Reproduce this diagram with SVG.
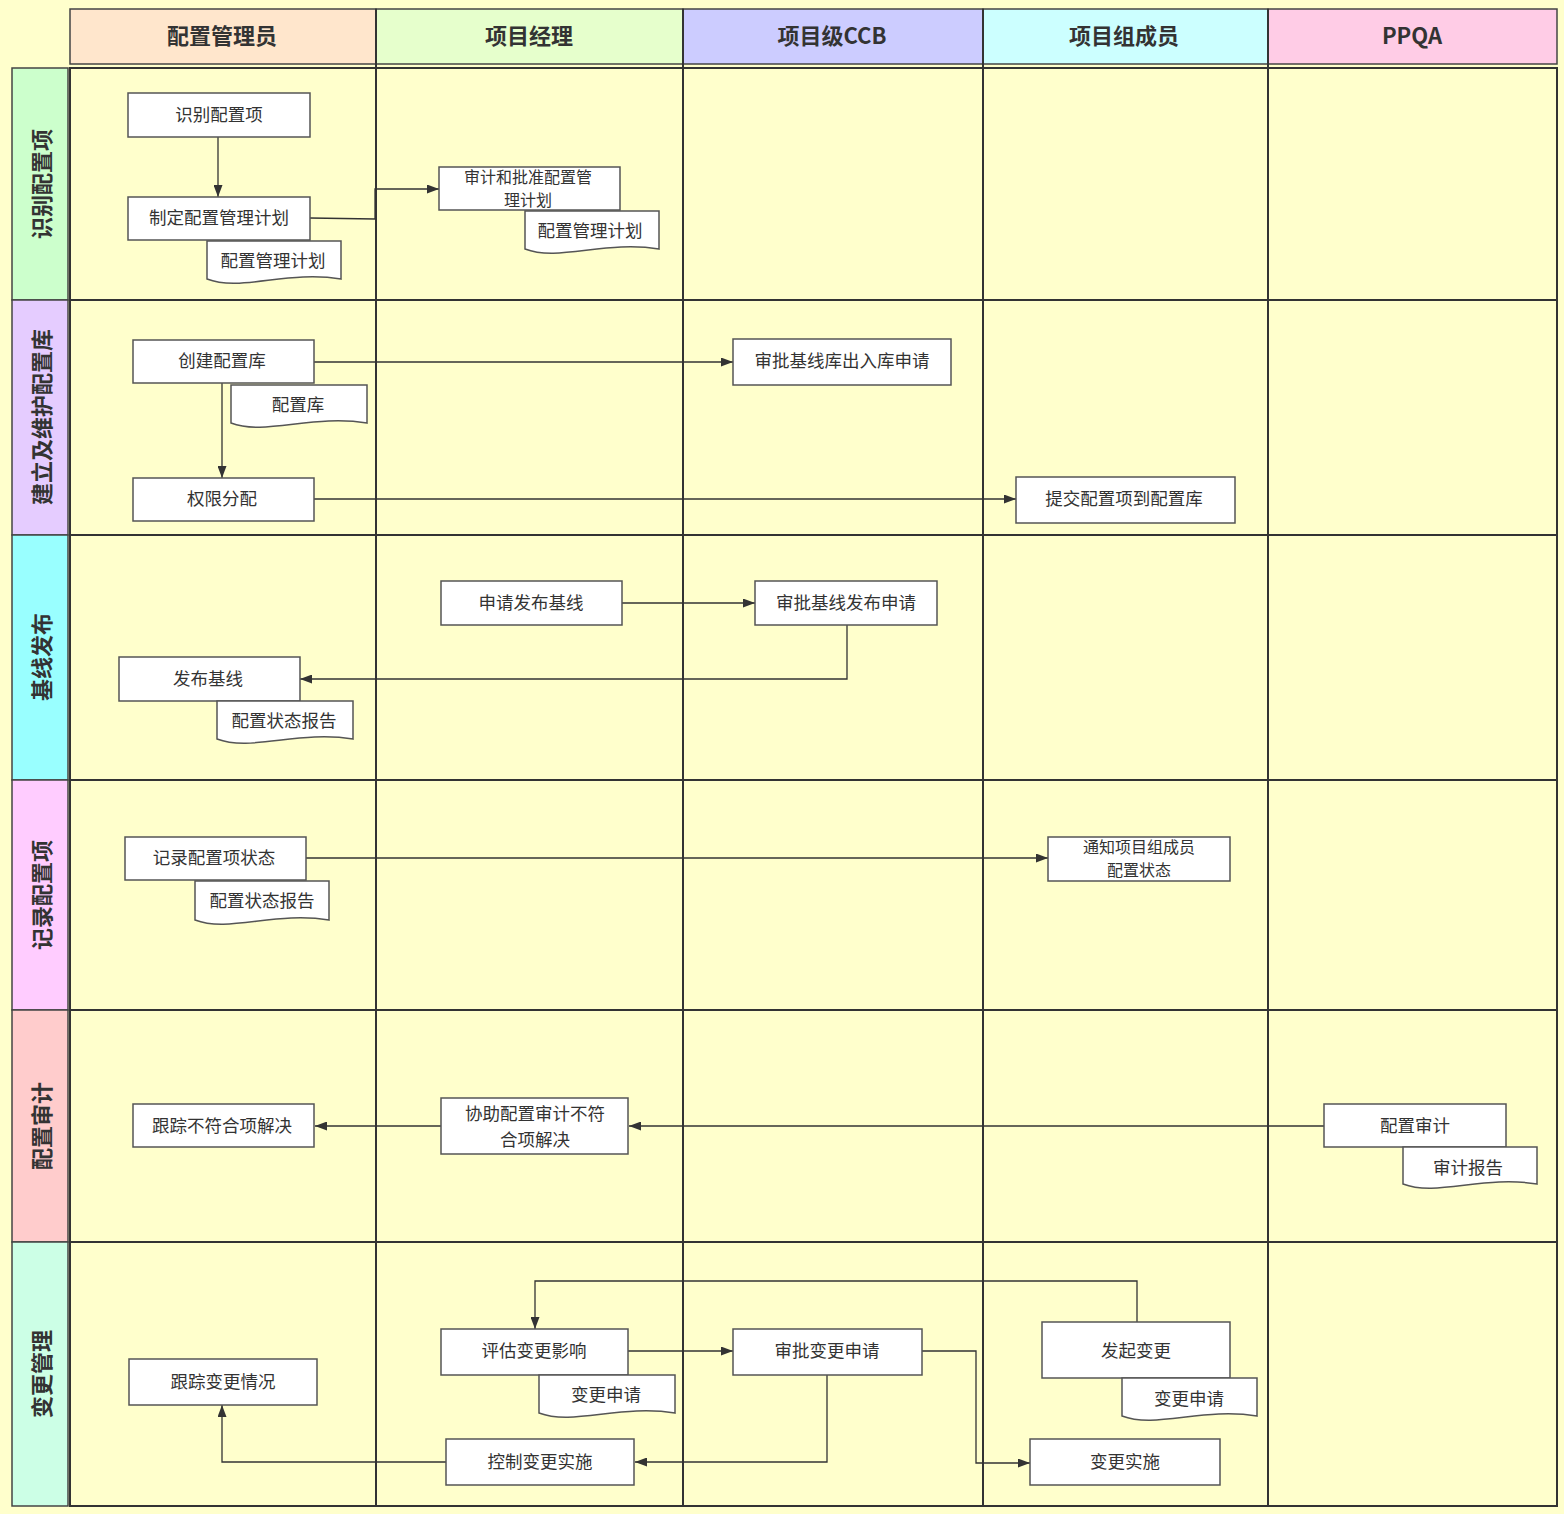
<svg xmlns="http://www.w3.org/2000/svg" width="1564" height="1514" viewBox="0 0 1564 1514">
<defs>
<style>
.bg{fill:#ffffcc}
.grid{fill:none;stroke:#333;stroke-width:2}
.hdr{stroke:#444;stroke-width:1.5}
.ht{font-family:"Noto Sans CJK SC","Noto Sans",sans-serif;font-size:22px;font-weight:bold;fill:#333;text-anchor:middle;dominant-baseline:central}
.lt{font-family:"Noto Sans CJK SC","Noto Sans",sans-serif;font-size:22px;font-weight:bold;fill:#333;text-anchor:middle;dominant-baseline:central}
.box{fill:#fff;stroke:#555;stroke-width:1.5}
.t{font-family:"Noto Sans CJK SC","Noto Sans",sans-serif;font-size:17.5px;fill:#333;text-anchor:middle;dominant-baseline:central}
.t2{font-size:16px}
.c{fill:none;stroke:#333;stroke-width:1.3}
</style>
<marker id="ah" markerUnits="userSpaceOnUse" markerWidth="12" markerHeight="9" refX="12" refY="4.5" orient="auto">
<path d="M0,0 L12,4.5 L0,9 z" fill="#333"/>
</marker>
</defs>
<rect class="bg" x="0" y="0" width="1564" height="1514"/>

<g id="headers">
<rect class="hdr" x="70" y="9" width="306" height="55" fill="#ffe6cc"/>
<rect class="hdr" x="376" y="9" width="307" height="55" fill="#e6ffcc"/>
<rect class="hdr" x="683" y="9" width="300" height="55" fill="#ccccff"/>
<rect class="hdr" x="983" y="9" width="285" height="55" fill="#ccffff"/>
<rect class="hdr" x="1268" y="9" width="289" height="55" fill="#ffcce6"/>
<text class="ht" x="222" y="34">配置管理员</text>
<text class="ht" x="529" y="34">项目经理</text>
<text class="ht" x="832" y="34">项目级CCB</text>
<text class="ht" x="1124" y="34">项目组成员</text>
<text class="ht" x="1412" y="34">PPQA</text>
</g>

<g id="lanes">
<rect class="hdr" x="12" y="68" width="56" height="232" fill="#ccffcc"/>
<rect class="hdr" x="12" y="300" width="56" height="235" fill="#e5ccff"/>
<rect class="hdr" x="12" y="535" width="56" height="245" fill="#99ffff"/>
<rect class="hdr" x="12" y="780" width="56" height="230" fill="#ffccff"/>
<rect class="hdr" x="12" y="1010" width="56" height="232" fill="#ffcccc"/>
<rect class="hdr" x="12" y="1242" width="56" height="264" fill="#ccffe6"/>
<text class="lt" transform="translate(40,184) rotate(-90)">识别配置项</text>
<text class="lt" transform="translate(40,417) rotate(-90)">建立及维护配置库</text>
<text class="lt" transform="translate(40,657) rotate(-90)">基线发布</text>
<text class="lt" transform="translate(40,895) rotate(-90)">记录配置项</text>
<text class="lt" transform="translate(40,1126) rotate(-90)">配置审计</text>
<text class="lt" transform="translate(40,1374) rotate(-90)">变更管理</text>
</g>

<g id="grid">
<rect class="grid" x="70" y="68" width="1487" height="1438"/>
<path class="grid" d="M376,9 V1506 M683,9 V1506 M983,9 V1506 M1268,9 V1506 M70,300 H1557 M70,535 H1557 M70,780 H1557 M70,1010 H1557 M70,1242 H1557"/>
</g>

<g id="connectors">
<path class="c" marker-end="url(#ah)" d="M218,137 V197"/>
<path class="c" marker-end="url(#ah)" d="M310,218 L375,219 V189 H439"/>
<path class="c" marker-end="url(#ah)" d="M222,383 V478"/>
<path class="c" marker-end="url(#ah)" d="M314,362 H733"/>
<path class="c" marker-end="url(#ah)" d="M314,499 H1016"/>
<path class="c" marker-end="url(#ah)" d="M622,603 L755,603"/>
<path class="c" marker-end="url(#ah)" d="M847,625 V679 H300"/>
<path class="c" marker-end="url(#ah)" d="M306,858 H1048"/>
<path class="c" marker-end="url(#ah)" d="M1324,1126 H629"/>
<path class="c" marker-end="url(#ah)" d="M441,1126 H315"/>
<path class="c" marker-end="url(#ah)" d="M1137,1322 V1281 H535 V1329"/>
<path class="c" marker-end="url(#ah)" d="M628,1351 H733"/>
<path class="c" marker-end="url(#ah)" d="M922,1351 H976 V1463 H1030"/>
<path class="c" marker-end="url(#ah)" d="M827,1375 V1462 H635"/>
<path class="c" marker-end="url(#ah)" d="M446,1462 H222 V1405"/>
</g>

<g id="n-identify"><rect class="box" x="128" y="93" width="182" height="44"/><text class="t" x="219" y="113">识别配置项</text></g>
<g id="n-plan"><rect class="box" x="128" y="197" width="182" height="43"/><text class="t" x="219" y="216">制定配置管理计划</text></g>
<g id="d-plan1"><path class="box" d="M207,241 H341 V279 C287.4,270 240.5,292 207,279 Z"/><text class="t" x="273" y="259">配置管理计划</text></g>
<g id="n-approveplan"><rect class="box" x="439" y="167" width="181" height="43"/><text class="t t2" x="528" y="176">审计和批准配置管</text><text class="t t2" x="528" y="199">理计划</text></g>
<g id="d-plan2"><path class="box" d="M525,211 H659 V249 C605.4,240 558.5,262 525,249 Z"/><text class="t" x="590" y="229">配置管理计划</text></g>

<g id="n-createlib"><rect class="box" x="133" y="340" width="181" height="43"/><text class="t" x="222" y="359">创建配置库</text></g>
<g id="d-lib"><path class="box" d="M231,385 H367 V423 C312.6,414 265,436 231,423 Z"/><text class="t" x="298" y="403">配置库</text></g>
<g id="n-perm"><rect class="box" x="133" y="478" width="181" height="43"/><text class="t" x="222" y="497">权限分配</text></g>
<g id="n-approvelib"><rect class="box" x="733" y="339" width="218" height="46"/><text class="t" x="842" y="359">审批基线库出入库申请</text></g>
<g id="n-submit"><rect class="box" x="1016" y="477" width="219" height="46"/><text class="t" x="1124" y="497">提交配置项到配置库</text></g>

<g id="n-applybase"><rect class="box" x="441" y="581" width="181" height="44"/><text class="t" x="531" y="601">申请发布基线</text></g>
<g id="n-approvebase"><rect class="box" x="755" y="581" width="182" height="44"/><text class="t" x="846" y="601">审批基线发布申请</text></g>
<g id="n-release"><rect class="box" x="119" y="657" width="181" height="44"/><text class="t" x="208" y="677">发布基线</text></g>
<g id="d-status1"><path class="box" d="M217,701 H353 V739 C298.6,730 251,752 217,739 Z"/><text class="t" x="284" y="719">配置状态报告</text></g>

<g id="n-record"><rect class="box" x="125" y="837" width="181" height="43"/><text class="t" x="214" y="856">记录配置项状态</text></g>
<g id="d-status2"><path class="box" d="M195,881 H329 V920 C275.4,911 228.5,933 195,920 Z"/><text class="t" x="262" y="899">配置状态报告</text></g>
<g id="n-notify"><rect class="box" x="1048" y="837" width="182" height="44"/><text class="t t2" x="1139" y="846">通知项目组成员</text><text class="t t2" x="1139" y="869">配置状态</text></g>

<g id="n-track"><rect class="box" x="133" y="1104" width="181" height="43"/><text class="t" x="222" y="1124">跟踪不符合项解决</text></g>
<g id="n-assist"><rect class="box" x="441" y="1098" width="187" height="56"/><text class="t" x="535" y="1112">协助配置审计不符</text><text class="t" x="535" y="1138">合项解决</text></g>
<g id="n-audit"><rect class="box" x="1324" y="1104" width="182" height="43"/><text class="t" x="1415" y="1124">配置审计</text></g>
<g id="d-auditrep"><path class="box" d="M1403,1147 H1537 V1184 C1483.4,1175 1436.5,1197 1403,1184 Z"/><text class="t" x="1468" y="1166">审计报告</text></g>

<g id="n-trackchange"><rect class="box" x="129" y="1359" width="188" height="46"/><text class="t" x="223" y="1380">跟踪变更情况</text></g>
<g id="n-evaluate"><rect class="box" x="441" y="1329" width="187" height="46"/><text class="t" x="534" y="1349">评估变更影响</text></g>
<g id="d-cr1"><path class="box" d="M539,1375 H675 V1413 C620.6,1404 573,1426 539,1413 Z"/><text class="t" x="606" y="1393">变更申请</text></g>
<g id="n-approvechange"><rect class="box" x="733" y="1329" width="189" height="46"/><text class="t" x="827" y="1349">审批变更申请</text></g>
<g id="n-initiate"><rect class="box" x="1042" y="1322" width="188" height="56"/><text class="t" x="1136" y="1349">发起变更</text></g>
<g id="d-cr2"><path class="box" d="M1122,1378 H1257 V1416 C1203,1407 1155.75,1429 1122,1416 Z"/><text class="t" x="1189" y="1397">变更申请</text></g>
<g id="n-control"><rect class="box" x="446" y="1439" width="188" height="46"/><text class="t" x="540" y="1460">控制变更实施</text></g>
<g id="n-implement"><rect class="box" x="1030" y="1439" width="190" height="46"/><text class="t" x="1125" y="1460">变更实施</text></g>
</svg>
